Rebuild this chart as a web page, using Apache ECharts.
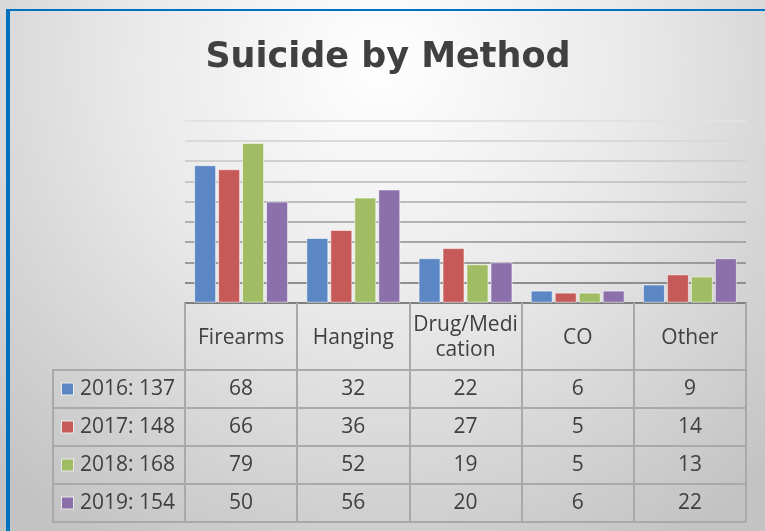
<!DOCTYPE html>
<html>
<head>
<meta charset="utf-8">
<script src="https://cdn.jsdelivr.net/npm/echarts@6/dist/echarts.min.js"></script>
<style>
  html, body { margin: 0; padding: 0; }
  #chart { width: 765px; height: 531px; }
</style>
</head>
<body>
<div id="chart"></div>
<script>
// data
const methods = ['Firearms', 'Hanging', 'Drug/Medi\ncation', 'CO', 'Other']
const years = ['2016', '2017', '2018', '2019']
const values2016 = [68, 32, 22, 6, 9]
const values2017 = [66, 36, 27, 5, 14]
const values2018 = [79, 52, 19, 5, 13]
const values2019 = [50, 56, 20, 6, 22]
const colors = ['#5b87c4', '#c65a58', '#a1bd63', '#8b70ab']

const rows = [values2016, values2017, values2018, values2019]
const totals = rows.map(r => r.reduce((a, b) => a + b, 0))

const textColor = '#404040'
const tableLine = '#a9a9a9'
const font = '"Open Sans", sans-serif'

// gridline colours, from 0 upward (darker near the axis)
const gridColors = ['#808080', '#8e8e8e', '#9b9b9b', '#a7a7a7', '#b2b2b2', '#bdbdbd', '#c7c7c7', '#d0d0d0', '#d9d9d9', '#e2e2e2']

const cells = []
rows.forEach((r, ri) => {
  r.forEach((v, ci) => cells.push([ci, ri, v]))
})

const legendRich = {
  g: { width: 7 },
  t: { fontSize: 21, fontFamily: font, color: textColor }
}
colors.forEach((c, i) => {
  legendRich['m' + i] = { width: 11, height: 11, backgroundColor: c, borderColor: 'rgba(255,255,255,0.6)', borderWidth: 1 }
})

const chart = echarts.init(document.getElementById('chart'))
chart.setOption({
  animation: false,
  backgroundColor: {
    type: 'radial', x: 0.5, y: 0.12, r: 1.05,
    colorStops: [
      { offset: 0, color: '#ffffff' },
      { offset: 0.45, color: '#e9e9e9' },
      { offset: 1, color: '#c3c3c3' }
    ]
  },
  graphic: [
    { type: 'rect', shape: { x: 6, y: 9, width: 4, height: 522 }, style: { fill: '#0070c0' } },
    { type: 'rect', shape: { x: 6, y: 9, width: 759, height: 2 }, style: { fill: '#0070c0' } },
    {
      type: 'text', x: 388, y: 58,
      style: { text: 'Suicide by Method', font: 'bold 35px "DejaVu Sans", sans-serif', fill: textColor, align: 'center', verticalAlign: 'middle' }
    }
  ],
  grid: [
    { left: 185, right: 19, top: 120.7, height: 182 },
    { left: 185, right: 19, top: 370, height: 152 }
  ],
  xAxis: [
    {
      type: 'category',
      gridIndex: 0,
      data: methods,
      axisLine: { lineStyle: { color: '#7f7f7f', width: 2 } },
      axisTick: { show: true, interval: 0, length: 68, lineStyle: { color: tableLine, width: 2 } },
      axisLabel: {
        interval: 0, margin: 35, verticalAlign: 'middle',
        fontSize: 21, fontFamily: font, color: textColor, lineHeight: 25
      }
    },
    {
      type: 'category',
      gridIndex: 1,
      data: methods,
      axisLine: { show: false },
      axisTick: { show: false },
      axisLabel: { show: false },
      splitLine: { show: true, interval: 0, lineStyle: { color: tableLine, width: 2 } }
    }
  ],
  yAxis: [
    {
      type: 'value',
      gridIndex: 0,
      min: 0, max: 90, interval: 10,
      axisLabel: { show: false },
      axisLine: { show: false },
      axisTick: { show: false },
      splitLine: { lineStyle: { color: gridColors, width: 2 } }
    },
    {
      type: 'category',
      gridIndex: 1,
      inverse: true,
      data: years,
      axisLine: { show: false },
      axisTick: { show: true, interval: 0, length: 132, lineStyle: { color: tableLine, width: 2 } },
      axisLabel: {
        interval: 0, align: 'left', margin: 123,
        formatter: (v, i) => `{m${i}|}{g|}{t|${v}: ${totals[i]}}`,
        rich: legendRich
      },
      splitLine: { show: true, interval: 0, lineStyle: { color: tableLine, width: 2 } }
    },
    {
      type: 'category',
      gridIndex: 1,
      inverse: true,
      data: years,
      position: 'left',
      offset: 132,
      axisLine: { show: true, lineStyle: { color: tableLine, width: 2 } },
      axisTick: { show: false },
      axisLabel: { show: false },
      splitLine: { show: false }
    }
  ],
  series: [
    ...rows.map((r, i) => ({
      name: years[i],
      type: 'bar',
      xAxisIndex: 0,
      yAxisIndex: 0,
      data: r,
      barWidth: 22,
      barGap: '9%',
      itemStyle: { color: colors[i], borderColor: 'rgba(255,255,255,0.55)', borderWidth: 1 }
    })),
    {
      type: 'custom',
      xAxisIndex: 1,
      yAxisIndex: 1,
      data: cells,
      renderItem(params, api) {
        const p = api.coord([api.value(0), api.value(1)])
        return {
          type: 'text',
          x: p[0], y: p[1],
          style: { text: String(api.value(2)), font: '21px "Open Sans", sans-serif', fill: textColor, align: 'center', verticalAlign: 'middle' }
        }
      }
    }
  ]
})
</script>
</body>
</html>
